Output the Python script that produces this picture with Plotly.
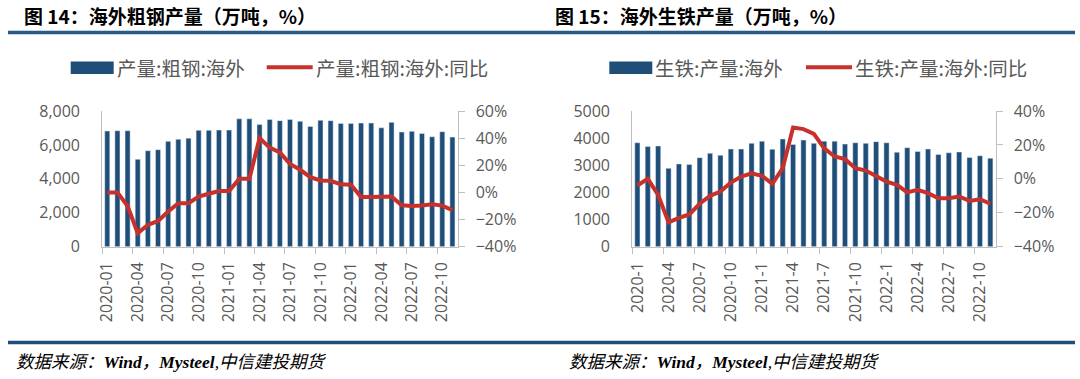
import plotly.graph_objects as go

# ---------------- data ----------------
steel_months = ["2020-01","2020-02","2020-03","2020-04","2020-05","2020-06","2020-07","2020-08","2020-09",
                "2020-10","2020-11","2020-12","2021-01","2021-02","2021-03","2021-04","2021-05","2021-06",
                "2021-07","2021-08","2021-09","2021-10","2021-11","2021-12","2022-01","2022-02","2022-03",
                "2022-04","2022-05","2022-06","2022-07","2022-08","2022-09","2022-10","2022-11"]
steel_output = [6820, 6840, 6840, 5150, 5660, 5720, 6210, 6330, 6400, 6860,
                6860, 6880, 6880, 7540, 7540, 7210, 7500, 7430, 7500, 7390,
                7090, 7450, 7430, 7270, 7270, 7290, 7290, 7010, 7330, 6760,
                6800, 6680, 6480, 6780, 6460]
steel_yoy = [0, 0, -10, -30, -24, -21, -14, -8, -8, -3,
             -1, 1, 1, 10, 10, 40, 33, 29.5, 21, 16.7,
             11.3, 8.8, 8.6, 6, 5.7, -3.4, -3.4, -3, -3, -9.5,
             -10, -9.7, -8.7, -9.7, -13]

iron_months = ["2020-1","2020-2","2020-3","2020-4","2020-5","2020-6","2020-7","2020-8","2020-9",
               "2020-10","2020-11","2020-12","2021-1","2021-2","2021-3","2021-4","2021-5","2021-6",
               "2021-7","2021-8","2021-9","2021-10","2021-11","2021-12","2022-1","2022-2","2022-3",
               "2022-4","2022-5","2022-6","2022-7","2022-8","2022-9","2022-10","2022-11"]
iron_output = [3830, 3690, 3710, 2890, 3050, 3030, 3280, 3440, 3370, 3600,
               3600, 3810, 3890, 3590, 3970, 3770, 3930, 3810, 3890, 3890,
               3780, 3830, 3810, 3870, 3830, 3480, 3650, 3510, 3600, 3400,
               3460, 3490, 3290, 3350, 3260]
iron_yoy = [-3.9, 0, -9.4, -25.7, -23, -21, -14.7, -10, -7.5, -2.2,
            1.4, 3.3, 1.8, -2.9, 6.3, 30.3, 29.3, 26.5, 18, 13.2,
            11.6, 6.3, 4.9, 1.4, -1.6, -3.5, -8, -6.5, -8.4, -11.4,
            -11.4, -10.4, -13, -12, -14.7]

titles = ["图 14：海外粗钢产量（万吨，%）", "图 15：海外生铁产量（万吨，%）"]
legend_names = [["产量:粗钢:海外", "产量:粗钢:海外:同比"], ["生铁:产量:海外", "生铁:产量:海外:同比"]]
source_text = "数据来源：<b>Wind</b>，<b>Mysteel</b>,中信建投期货"

# ---------------- style ----------------
W, H = 1080, 379
BAR = "#1F4E79"
RED = "#C8312B"
GRAY = "#BFBFBF"
TXT = "#595959"
TICKFONT = dict(family="Open Sans, Noto Sans CJK SC", size=16, color=TXT)
CJK = "Noto Sans CJK SC"

def px(x):
    return x / W

def py(y):
    return 1 - y / H

fig = go.Figure()

idx_s = list(range(len(steel_months)))
idx_i = list(range(len(iron_months)))

fig.add_trace(go.Bar(x=idx_s, y=steel_output, marker_color=BAR, xaxis="x", yaxis="y",
                     name=legend_names[0][0], showlegend=False))
fig.add_trace(go.Scatter(x=idx_s, y=steel_yoy, mode="lines", line=dict(color=RED, width=4),
                         xaxis="x", yaxis="y2", name=legend_names[0][1], showlegend=False))
fig.add_trace(go.Bar(x=idx_i, y=iron_output, marker_color=BAR, xaxis="x2", yaxis="y3",
                     name=legend_names[1][0], showlegend=False))
fig.add_trace(go.Scatter(x=idx_i, y=iron_yoy, mode="lines", line=dict(color=RED, width=4),
                         xaxis="x2", yaxis="y4", name=legend_names[1][1], showlegend=False))

ydom = [py(246.7), py(111)]

def xaxis_cfg(dom, anchor, labels):
    n = len(labels)
    return dict(domain=dom, anchor=anchor, range=[-0.5, n - 0.5], automargin=False,
                tickmode="array", tickvals=list(range(0, n, 3)), ticktext=labels[::3],
                tickangle=-90, ticks="", tickfont=TICKFONT, ticklabelstandoff=8,
                showline=True, linecolor=GRAY, linewidth=1, showgrid=False, zeroline=False,
                minor=dict(tickmode="array", tickvals=[v - 0.5 for v in range(0, n - 1, 3)],
                           ticks="outside", ticklen=6, tickcolor=GRAY, tickwidth=1, showgrid=False))

def yleft_cfg(anchor, rng, dtick, fmt):
    return dict(domain=ydom, anchor=anchor, range=rng, dtick=dtick, tickformat=fmt, automargin=False,
                showline=True, linecolor=GRAY, linewidth=1, ticks="", showgrid=False,
                zeroline=False, tickfont=TICKFONT, ticklabelstandoff=18)

def yright_cfg(overlay, anchor, rng):
    return dict(overlaying=overlay, anchor=anchor, side="right", range=rng, dtick=20, automargin=False,
                ticksuffix="%", showline=True, linecolor=GRAY, linewidth=1, ticks="outside",
                ticklen=6, tickcolor=GRAY, showgrid=False, zeroline=False, tickfont=TICKFONT,
                ticklabelstandoff=8)

fig.update_layout(
    width=W, height=H, margin=dict(l=0, r=0, t=0, b=0, pad=0, autoexpand=False),
    paper_bgcolor="white", plot_bgcolor="white", bargap=0.5, hovermode=False,
    xaxis=xaxis_cfg([px(102.2), px(457.5)], "y", steel_months),
    yaxis=yleft_cfg("x", [0, 8000], 2000, ","),
    yaxis2=yright_cfg("y", "x", [-40, 60]),
    xaxis2=xaxis_cfg([px(632.2), px(995.5)], "y3", iron_months),
    yaxis3=yleft_cfg("x2", [0, 5000], 1000, "d"),
    yaxis4=yright_cfg("y3", "x2", [-40, 40]),
)

shapes = []
annotations = []

# rules
shapes.append(dict(type="line", xref="paper", yref="paper", x0=px(8), x1=px(1075),
                   y0=py(32.5), y1=py(32.5), line=dict(color="#2A5887", width=3.5)))
shapes.append(dict(type="line", xref="paper", yref="paper", x0=px(8), x1=px(1075),
                   y0=py(342.5), y1=py(342.5), line=dict(color=BAR, width=3.5)))

# titles and sources
for tx, title in zip([22, 553], titles):
    annotations.append(dict(text=title, xref="paper", yref="paper", x=px(tx), y=py(15),
                            xanchor="left", yanchor="middle", showarrow=False,
                            font=dict(family=CJK, size=19, color="#000000", weight="bold")))
for sx in [14, 567]:
    annotations.append(dict(text="<i>" + source_text + "</i>", xref="paper", yref="paper",
                            x=px(sx), y=py(362), xanchor="left", yanchor="middle", showarrow=False,
                            font=dict(family="Liberation Serif, Noto Sans CJK SC", size=17.5, color="#000000")))

# legends
legend_pos = [(70.7, 266.7), (609.3, 806)]
for (bx, lx), names in zip(legend_pos, legend_names):
    shapes.append(dict(type="rect", xref="paper", yref="paper", x0=px(bx), x1=px(bx + 43),
                       y0=py(74), y1=py(61.5), fillcolor=BAR, line=dict(width=0)))
    annotations.append(dict(text=names[0], xref="paper", yref="paper", x=px(bx + 44), y=py(67.5),
                            xanchor="left", yanchor="middle", showarrow=False,
                            font=dict(family=CJK, size=19.5, color=TXT)))
    shapes.append(dict(type="line", xref="paper", yref="paper", x0=px(lx), x1=px(lx + 46),
                       y0=py(67.3), y1=py(67.3), line=dict(color=RED, width=4)))
    annotations.append(dict(text=names[1], xref="paper", yref="paper", x=px(lx + 47), y=py(67.5),
                            xanchor="left", yanchor="middle", showarrow=False,
                            font=dict(family=CJK, size=19.5, color=TXT)))

fig.update_layout(shapes=shapes, annotations=annotations)
fig.write_html("out.html", config={"displayModeBar": False},
               post_script="document.body.style.margin='0';")
